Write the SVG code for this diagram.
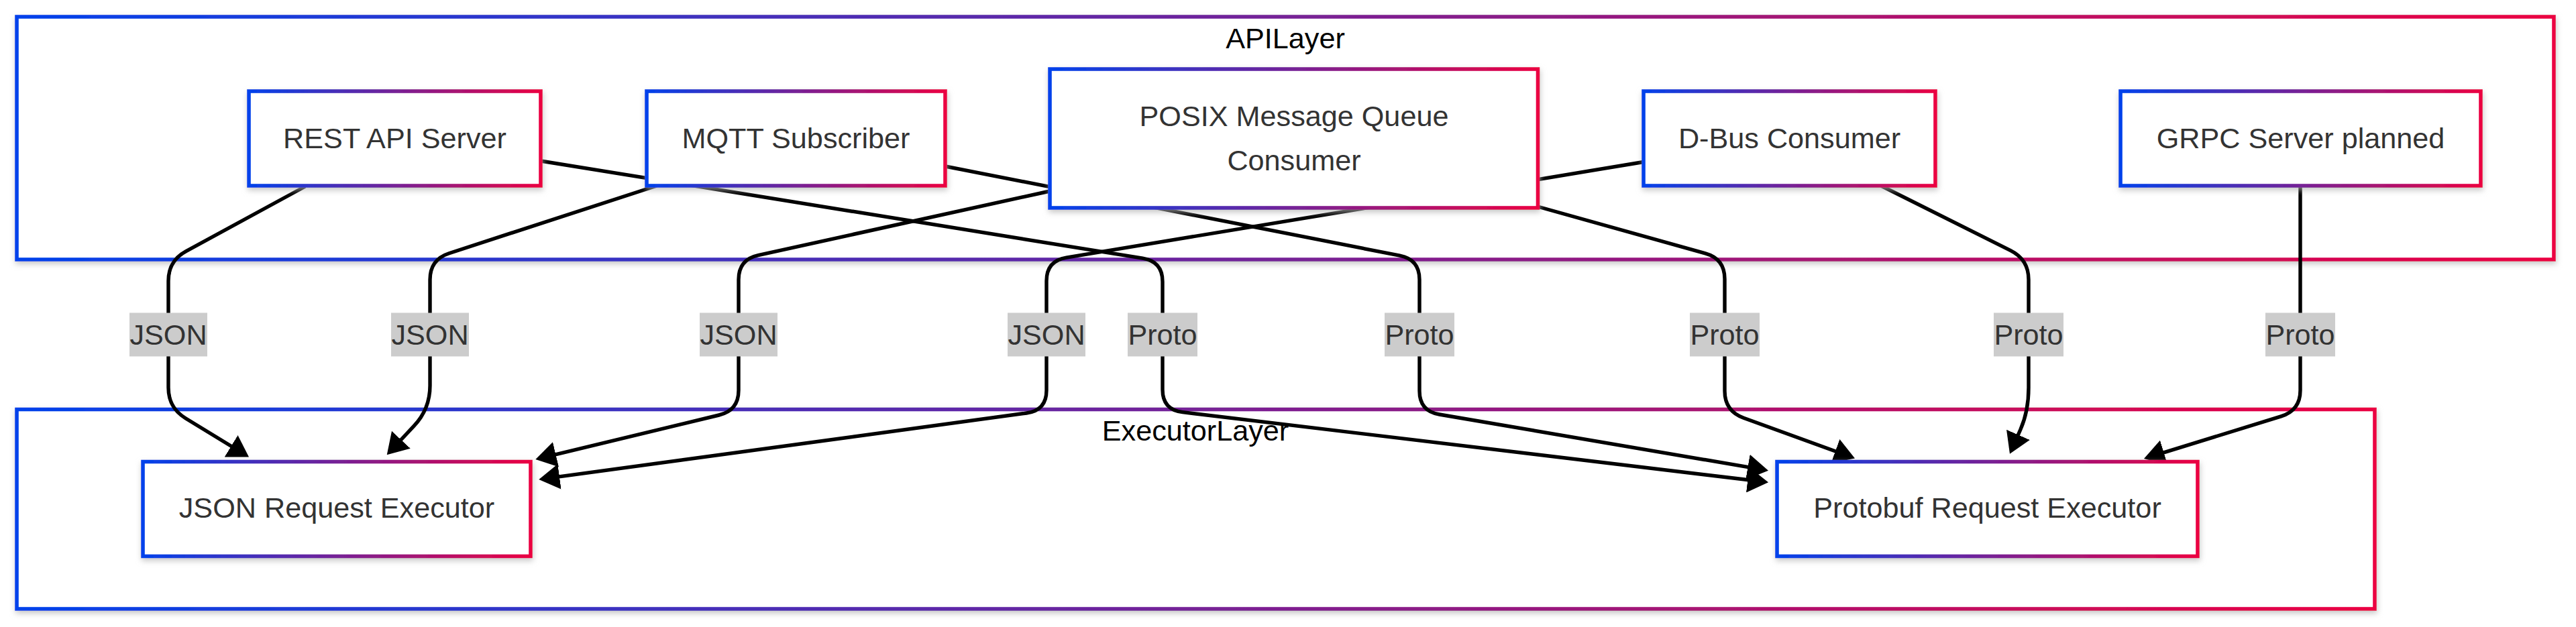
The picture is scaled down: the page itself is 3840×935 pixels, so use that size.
<svg xmlns="http://www.w3.org/2000/svg" width="3840" height="935" viewBox="0 0 3840 935">
<defs>
<linearGradient id="grad" x1="0" y1="0" x2="1" y2="0">
<stop offset="0" stop-color="#0042eb"/>
<stop offset="1" stop-color="#eb0042"/>
</linearGradient>
<filter id="shadow" x="-5%" y="-10%" width="110%" height="125%">
<feDropShadow dx="1" dy="4" stdDeviation="4" flood-color="#b0b0b0" flood-opacity="0.7"/>
</filter>
<marker id="arrow" viewBox="0 0 31 38" refX="23" refY="19" markerUnits="userSpaceOnUse" markerWidth="31" markerHeight="38" orient="auto">
<path d="M0,0 L31,19 L0,38 z" fill="#000"/>
</marker>
</defs>
<style>
.cluster rect{fill:#fff;stroke:url(#grad);stroke-width:5.6;filter:url(#shadow)}
.cluster text{font-family:"Liberation Sans",Arial,sans-serif;font-size:43.2px;fill:#000;text-anchor:middle}
.node rect{fill:#fff;stroke:url(#grad);stroke-width:5.6;filter:url(#shadow)}
.node text{font-family:"Liberation Sans",Arial,sans-serif;font-size:43.2px;fill:#333;text-anchor:middle}
.edge{fill:none;stroke:#000;stroke-width:5.4;marker-end:url(#arrow)}
.elabel rect{fill:#cccccc}
.elabel text{font-family:"Liberation Sans",Arial,sans-serif;font-size:43.2px;fill:#333;text-anchor:middle}
</style>
<rect width="3840" height="935" fill="#fff"/>
<g id="APILayer" class="cluster">
<rect x="25" y="25" width="3782" height="362"/>
<text x="1916" y="72">APILayer</text>
</g>
<g id="ExecutorLayer" class="cluster">
<rect x="25" y="610.5" width="3515" height="297.5"/>
<text x="1782" y="657">ExecutorLayer</text>
</g>
<g id="connectors">
<path class="edge" d="M455,278 L277.4,374.7 Q251,389 251,419 L251,578 Q251,608 276.6,623.7 L364.2,677.3"/>
<path class="edge" d="M979,277 L669.5,377.7 Q641,387 641,417 L641,575 Q641,610 616.9,635.4 L582.2,672.5"/>
<path class="edge" d="M1565,285 L1130.3,380.6 Q1101,387 1101,417 L1101,582 Q1101,612 1071.8,619 L806.1,683.1"/>
<path class="edge" d="M2450,241.5 L1589.6,384.1 Q1560,389 1560,419 L1560,582 Q1560,612 1530.3,616 L811.2,713.9"/>
<path class="edge" d="M806,240 L1703.4,385.2 Q1733,390 1733,420 L1733,581 Q1733,611 1762.8,614.6 L2628.1,718.3"/>
<path class="edge" d="M1409,248 L2086.6,381.2 Q2116,387 2116,417 L2116,583 Q2116,613 2145.6,618 L2628.1,700.4"/>
<path class="edge" d="M2292,308 L2542.1,377.9 Q2571,386 2571,416 L2571,583 Q2571,613 2599.2,623.2 L2757.5,680.8"/>
<path class="edge" d="M2804,277 L2997.2,373.6 Q3024,387 3024,417 L3024,578 Q3024,613 3011.9,640.5 L2999.2,669.4"/>
<path class="edge" d="M3429,277 L3429,582 Q3429,612 3400.3,620.9 L3203.6,681.6"/>
</g>
<g id="edge-labels">
<g class="elabel"><rect x="193" y="466.5" width="116" height="65"/><text x="251" y="514">JSON</text></g>
<g class="elabel"><rect x="583" y="466.5" width="116" height="65"/><text x="641" y="514">JSON</text></g>
<g class="elabel"><rect x="1043" y="466.5" width="116" height="65"/><text x="1101" y="514">JSON</text></g>
<g class="elabel"><rect x="1502" y="466.5" width="116" height="65"/><text x="1560" y="514">JSON</text></g>
<g class="elabel"><rect x="1681" y="466.5" width="104" height="65"/><text x="1733" y="514">Proto</text></g>
<g class="elabel"><rect x="2064" y="466.5" width="104" height="65"/><text x="2116" y="514">Proto</text></g>
<g class="elabel"><rect x="2519" y="466.5" width="104" height="65"/><text x="2571" y="514">Proto</text></g>
<g class="elabel"><rect x="2972" y="466.5" width="104" height="65"/><text x="3024" y="514">Proto</text></g>
<g class="elabel"><rect x="3377" y="466.5" width="104" height="65"/><text x="3429" y="514">Proto</text></g>
</g>
<g id="REST" class="node">
<rect x="371" y="136" width="435" height="141"/>
<text x="588.5" y="221">REST API Server</text>
</g>
<g id="MQTT" class="node">
<rect x="964" y="136" width="445" height="141"/>
<text x="1186.5" y="221">MQTT Subscriber</text>
</g>
<g id="POSIX" class="node">
<rect x="1565" y="103" width="727.5" height="207"/>
<text x="1929" y="187.5">POSIX Message Queue</text>
<text x="1929" y="253.5">Consumer</text>
</g>
<g id="DBUS" class="node">
<rect x="2450" y="136" width="435" height="141"/>
<text x="2667.5" y="221">D-Bus Consumer</text>
</g>
<g id="GRPC" class="node">
<rect x="3161" y="136" width="537" height="141"/>
<text x="3429.5" y="221">GRPC Server planned</text>
</g>
<g id="JSONExec" class="node">
<rect x="213" y="688.5" width="578" height="141"/>
<text x="502" y="772">JSON Request Executor</text>
</g>
<g id="ProtoExec" class="node">
<rect x="2649" y="688.5" width="627" height="141"/>
<text x="2962.5" y="772">Protobuf Request Executor</text>
</g>
</svg>
